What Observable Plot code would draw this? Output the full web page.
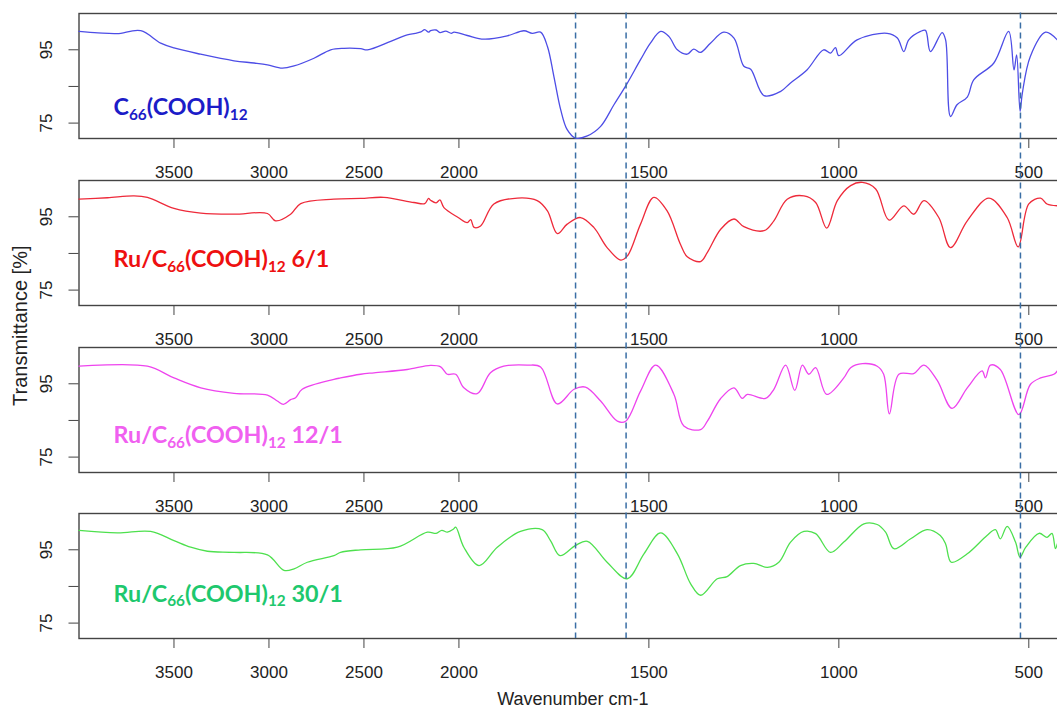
<!DOCTYPE html>
<html><head><meta charset="utf-8">
<script src="https://cdn.jsdelivr.net/npm/d3@7"></script>
<script src="https://cdn.jsdelivr.net/npm/@observablehq/plot@0.6"></script>
<style>
html,body{margin:0;padding:0;background:#fff;overflow:hidden;width:1057px;height:709px;}
#chart{position:relative;width:1057px;height:709px;overflow:hidden;background:#fff;}
.panel{position:absolute;left:0;}
</style></head><body><div id="chart"></div>
<script>
// ---- data ----
const xTicks = [3500, 3000, 2500, 2000, 1500, 1000, 500];
const yTicks = [75, 85, 95];
const yTickLabels = [75, 95];
const markers = [1693, 1560, 522];
const labels = ["C₆₆(COOH)₁₂", "Ru/C₆₆(COOH)₁₂ 6/1", "Ru/C₆₆(COOH)₁₂ 12/1", "Ru/C₆₆(COOH)₁₂ 30/1"];
const xTitle = "Wavenumber cm-1";
const yTitle = "Transmittance [%]";

const c66 = [[4000,100],[3900,99.6],[3800,99.4],[3675,100.2],[3570,96.8],[3500,95.5],[3360,93.8],[3184,92],[3079,91.4],[3008,90.9],[2930,90],[2868,90.6],[2763,92.7],[2675,95],[2605,95.4],[2517,95.3],[2482,95],[2359,97.3],[2272,99.1],[2230,99.5],[2200,99.9],[2180,100.5],[2160,99.8],[2149,100.2],[2120,100.4],[2100,99.7],[2070,100.1],[2040,99.5],[2026,99.8],[1978,98.9],[1934,97.9],[1873,98.8],[1829,100.2],[1807,99.5],[1785,99.8],[1767,95.9],[1750,87.7],[1732,78.6],[1715,73.2],[1693,70.9],[1662,71.5],[1627,74.1],[1592,80],[1559,85.5],[1522,92.3],[1496,96.8],[1469,100],[1447,98.6],[1425,95],[1399,93.8],[1382,95.2],[1364,94.3],[1338,96.8],[1303,99.8],[1276,98.2],[1250,90.5],[1232,89.7],[1197,82.5],[1154,83.6],[1128,85.9],[1084,89.5],[1040,95],[1022,94.1],[1009,95.6],[1000,93.4],[952,97.7],[873,99.5],[846,98.2],[829,94.5],[816,97.7],[785,100],[772,100.3],[759,94.5],[728,99.7],[719,97.7],[706,76.8],[689,80],[662,82.1],[645,86.8],[592,91.4],[553,100],[539,89.5],[532,93.6],[523,78.2],[517,83.2],[496,93.2],[456,99.8],[425,97.7]];

const ru6 = [[4000,99.8],[3850,100.2],[3711,100.7],[3640,100.3],[3500,97.3],[3359,96],[3184,95.7],[3008,95.9],[2965,93.9],[2886,95.7],[2833,98.6],[2658,99.8],[2517,100],[2395,100.3],[2237,98.9],[2180,98.6],[2160,100],[2149,99.5],[2120,98.8],[2100,99.6],[2079,97.5],[2004,94.8],[1978,93.4],[1969,94.2],[1960,92.1],[1943,92.5],[1908,98.5],[1846,100.1],[1794,99.4],[1767,96.6],[1741,90.4],[1715,93],[1680,94.8],[1645,92.1],[1610,86.6],[1574,83.2],[1556,84.4],[1522,93],[1487,100.3],[1452,96.6],[1417,87.5],[1399,84.1],[1364,82.8],[1346,85.3],[1311,91.6],[1276,94.4],[1250,92.3],[1197,91.2],[1171,93.9],[1136,99.8],[1092,100.7],[1061,98.9],[1032,91.9],[1004,99.4],[969,103.5],[938,104.4],[903,102.6],[868,94.1],[829,98],[803,95.7],[776,99.4],[737,94.8],[706,86.6],[662,93.9],[605,100.1],[557,94.8],[528,86.8],[500,98.5],[469,100.1],[452,98.5],[425,98]];

const ru12 = [[4000,99.8],[3640,99.8],[3500,96.6],[3359,93.9],[3184,92.4],[3008,91.9],[2956,90.3],[2924,89.4],[2886,90.7],[2860,91.2],[2825,93.5],[2658,96.2],[2623,96.6],[2517,97.6],[2447,98],[2272,98.9],[2149,100],[2096,99.6],[2061,97.6],[2017,97.6],[1987,93.9],[1952,92.3],[1917,98],[1882,99.8],[1820,100.1],[1785,99.6],[1741,89.5],[1697,93.5],[1667,94.1],[1627,90.3],[1583,84.8],[1561,84.8],[1522,93],[1482,100.1],[1434,92.1],[1408,83.5],[1364,82.5],[1346,84.8],[1311,91],[1276,93.9],[1254,91],[1241,92.1],[1193,91],[1171,93.5],[1140,100.1],[1116,93.2],[1096,100.1],[1079,97.6],[1061,99.4],[1032,92.1],[987,96.6],[969,99.4],[938,100.5],[899,99.8],[882,97.6],[867,86.8],[842,97.6],[803,97.8],[776,100.1],[741,95.9],[702,88.3],[662,93.9],[623,98.5],[614,96.6],[601,100.1],[575,98.9],[526,86.6],[496,94.8],[469,96.6],[434,97.6],[425,98.5]];

const ru30 = [[4000,100.3],[3798,99.6],[3623,100],[3500,97.5],[3412,95.7],[3324,94.6],[3184,94.3],[3008,93.6],[2921,89.4],[2868,89.8],[2798,91.6],[2658,93.4],[2623,94.3],[2517,95],[2324,95.7],[2166,99.8],[2120,99.5],[2090,100.3],[2061,99.8],[2030,100.6],[2017,101.2],[1987,95.7],[1947,90.7],[1899,95.7],[1838,100],[1781,100.5],[1759,97.5],[1734,93.4],[1693,96.2],[1662,97.3],[1610,91.6],[1557,87.1],[1513,93.9],[1469,99.6],[1425,93.9],[1390,85.7],[1364,82.6],[1320,87.1],[1294,87.7],[1259,90.7],[1224,91.3],[1188,90.2],[1158,91.6],[1127,97.1],[1092,100],[1061,99.4],[1022,94.3],[987,97.1],[934,102.1],[899,101.9],[877,99.8],[855,95.3],[811,98],[768,100.5],[733,98.9],[719,96.6],[704,91.6],[662,93.9],[610,98.9],[588,100.5],[575,98],[557,101.4],[535,97.1],[523,93],[508,95.7],[473,99.5],[452,98.4],[439,99.5],[430,95.3],[425,96.6]];

const seriesData = [c66, ru6, ru12, ru30];

// ---- styles / layout ----
const lineColors = ["#4d4de6", "#ee2a3a", "#ee44ee", "#4ee04e"];
const textColors = ["#1c1cc8", "#ee1010", "#f060f0", "#1ec86e"];
const labelLift = [23.3, 38.3, 29.3, 37];
const panelTops = [0.5, 168, 334.7, 501.3];
// FTIR axis: wavenumbers below 2000 cm-1 are drawn at twice the scale
const xBreak = (w) => (w >= 2000 ? 4000 - w : 2000 + 2 * (2000 - w));
const xUnbreak = (v) => (v <= 2000 ? 4000 - v : 2000 - (v - 2000) / 2);
const xDomain = [0, 5200];
const xRange = [78.5, 1066.3];
const yDomain = [70.8, 104.9];
const W = 1067;
const axisFont = "'Liberation Sans', Arial, Helvetica, sans-serif";
const labelFont = "Lato, 'Open Sans', sans-serif";
const svgStyle = {background: "transparent", maxWidth: "none", overflow: "visible", fontFamily: axisFont, color: "#333"};

// turn unicode subscript digits of a label into real tspans
const subMap = {"₀":"0","₁":"1","₂":"2","₃":"3","₄":"4","₅":"5","₆":"6","₇":"7","₈":"8","₉":"9"};
function subscriptify(svg) {
  d3.select(svg).selectAll("g[aria-label='text'] text").each(function () {
    const t = this.textContent;
    if (!/[₀-₉]/.test(t)) return;
    const sel = d3.select(this);
    sel.text(null);
    const parts = t.split(/([₀-₉]+)/).filter(s => s.length);
    let lowered = false;
    parts.forEach(part => {
      const isSub = /^[₀-₉]+$/.test(part);
      const ts = sel.append("tspan").text(isSub ? part.replace(/[₀-₉]/g, c => subMap[c]) : part);
      if (isSub) { ts.attr("font-size", "0.66em").attr("dy", lowered ? null : "0.32em"); lowered = true; }
      else if (lowered) { ts.attr("dy", "-0.21em"); lowered = false; }
    });
  });
}

const chart = document.getElementById("chart");

seriesData.forEach((data, i) => {
  const p = Plot.plot({
    width: W, height: 185,
    marginTop: 12, marginBottom: 48, marginLeft: 78.5, marginRight: W - 1066.3,
    style: svgStyle,
    x: {transform: xBreak, domain: xDomain, range: xRange, label: null},
    y: {domain: yDomain, label: null},
    marks: [
      Plot.frame({stroke: "#444", strokeWidth: 1.4}),
      Plot.axisX({ticks: xTicks.map(xBreak), tickSize: 10, tickPadding: 17, fontSize: 17, tickFormat: v => String(xUnbreak(v)), label: null, stroke: "#444", fill: "#222"}),
      Plot.axisY({ticks: yTicks, tickSize: 10, tickFormat: () => "", label: null, stroke: "#444"}),
      Plot.text(yTickLabels, {y: d => d, text: d => String(d), frameAnchor: "left", dx: -32, rotate: -90, fontSize: 17, lineAnchor: "middle", textAnchor: "middle", fill: "#222"}),
      Plot.line(data, {x: d => d[0], y: d => d[1], stroke: lineColors[i], strokeWidth: 1.3, curve: "catmull-rom"}),
      Plot.text([labels[i]], {text: d => d, frameAnchor: "bottom-left", dx: 34.5, dy: -labelLift[i], textAnchor: "start", lineAnchor: "bottom", fill: textColors[i], fontSize: 23.3, fontWeight: "bold", fontFamily: labelFont})
    ]
  });
  subscriptify(p);
  const div = document.createElement("div");
  div.className = "panel";
  div.style.top = panelTops[i] + "px";
  div.appendChild(p);
  chart.appendChild(div);
});

const overlay = Plot.plot({
  width: W, height: 709,
  marginTop: 12.5, marginBottom: 71, marginLeft: 78.5, marginRight: W - 1066.3,
  style: svgStyle,
  x: {transform: xBreak, domain: xDomain, range: xRange, label: null, axis: null},
  marks: [
    Plot.ruleX(markers, {x: d => d, stroke: "#3a6ea5", strokeWidth: 1.5, strokeDasharray: "6,4"}),
    Plot.text([yTitle], {text: d => d, frameAnchor: "left", dx: -58.5, dy: 0, rotate: -90, fontSize: 20, lineAnchor: "middle", textAnchor: "middle", fill: "#222"}),
    Plot.text([xTitle], {text: d => d, frameAnchor: "bottom", dy: 61, fontSize: 18, lineAnchor: "middle", textAnchor: "middle", fill: "#222"})
  ]
});
const od = document.createElement("div");
od.className = "panel";
od.style.top = "0px";
od.appendChild(overlay);
chart.appendChild(od);
</script></body></html>
